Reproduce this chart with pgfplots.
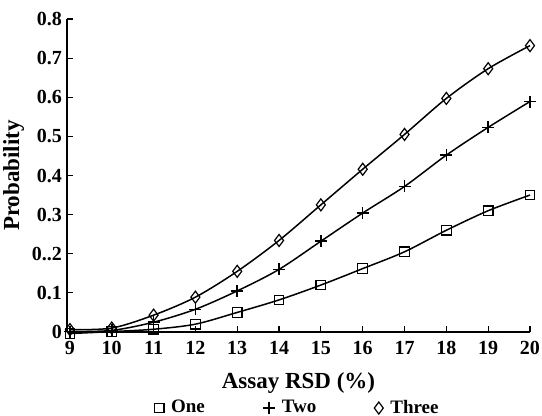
\documentclass[border=0pt]{standalone}
\usepackage{pgfplots}
\pgfplotsset{compat=1.18}
\usepackage{fontspec}
\setmainfont{Liberation Serif}

\begin{document}
\begin{tikzpicture}
\begin{axis}[
    name=ax,
    scale only axis,
    width=231.5pt, height=156.5pt,
    axis lines=left,
    axis line style={line width=0.9pt, -},
    xmin=8.93, xmax=20, ymin=0, ymax=0.8,
    xtick={9,...,20},
    ytick={0,0.1,...,0.8},
    yticklabels={0,0.1,0..2,0.3,0.4,0.5,0.6,0.7,0.8},
    tick align=inside,
    major tick length=3pt,
    tick style={line width=0.6pt, black},
    ticklabel style={font=\fontsize{10}{12}\selectfont\bfseries},
    /pgf/number format/assume math mode=true,
    xticklabel style={yshift=-1pt},
    yticklabel style={xshift=1pt},
    xlabel={Assay RSD (\%)},
    ylabel={Probability},
    label style={font=\fontsize{11.5}{13}\selectfont\bfseries},
    xlabel style={yshift=-2pt},
    ylabel style={yshift=-3pt},
    legend columns=3,
    legend style={draw=none, fill=none, at={(0.5,-0.243)}, anchor=center,
        font=\fontsize{9.5}{11}\selectfont\bfseries,
        /tikz/every even column/.append style={column sep=27pt}},
    legend image code/.code={\draw[#1, line width=0.5pt] plot coordinates {(0cm,0cm)};},
    clip=false,
]
\addplot[black, line width=0.75pt, smooth, mark=square, mark size=2.4pt, mark options={solid, fill=white, line width=0.6pt}] coordinates {
(9,-0.004) (10,0.001) (11,0.007) (12,0.02) (13,0.05) (14,0.082) (15,0.12)
(16,0.162) (17,0.205) (18,0.26) (19,0.31) (20,0.35)
};
\addlegendentry{\hspace{1.5pt}One}
\addplot[black, line width=0.75pt, smooth, mark=+, mark size=3pt, mark options={solid, line width=0.75pt}] coordinates {
(9,0.001) (10,0.004) (11,0.025) (12,0.058) (13,0.105) (14,0.16) (15,0.232)
(16,0.304) (17,0.372) (18,0.452) (19,0.523) (20,0.589)
};
\addlegendentry{\hspace{1.5pt}Two}
\addplot[black, line width=0.75pt, smooth, mark=diamond, mark size=3pt, mark options={solid, fill=white, line width=0.6pt}] coordinates {
(9,0.006) (10,0.01) (11,0.043) (12,0.089) (13,0.155) (14,0.234) (15,0.325)
(16,0.416) (17,0.505) (18,0.597) (19,0.673) (20,0.732)
};
\addlegendentry{\hspace{1.5pt}Three}
\end{axis}
\pgfresetboundingbox
\path ([shift={(-33.5pt,-42pt)}]ax.south west) rectangle ([shift={(6pt,9.5pt)}]ax.north east);
\end{tikzpicture}
\end{document}
